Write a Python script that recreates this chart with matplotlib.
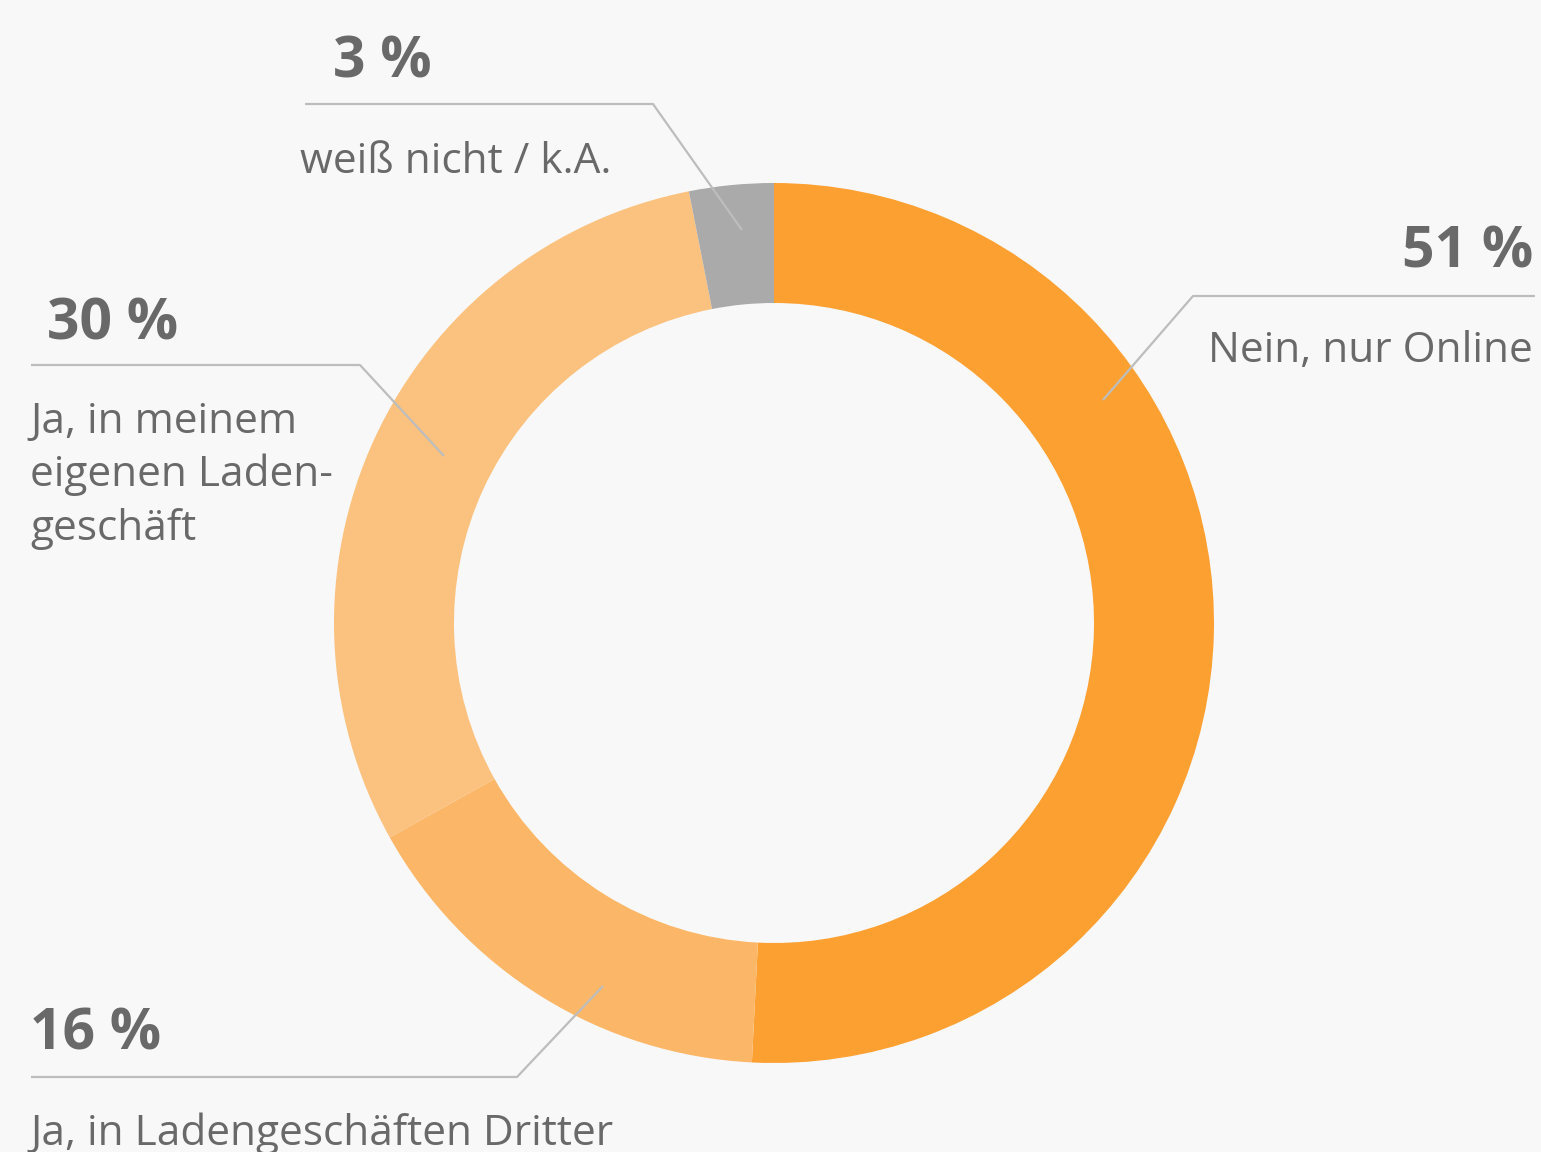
import matplotlib.pyplot as plt

plt.rcParams['font.family'] = ['Open Sans', 'DejaVu Sans']

# shares (clockwise from 12 o'clock)
categories = ["Nein, nur Online", "Ja, in Ladengeschäften Dritter",
              "Ja, in meinem\neigenen Laden-\ngeschäft", "weiß nicht / k.A."]
shares = [50.8, 16.1, 30.0, 3.1]
colors = ["#fca032", "#fbb767", "#fbc27f", "#aaaaaa"]

W, H = 1541, 1152
fig = plt.figure(figsize=(W / 100, H / 100), dpi=100)
fig.patch.set_facecolor("#f8f8f8")
ax = fig.add_axes([0, 0, 1, 1])

ax.pie(shares, colors=colors, startangle=90, counterclock=False,
       center=(774, H - 623), radius=440,
       wedgeprops=dict(width=120, linewidth=0))
ax.set_xlim(0, W)
ax.set_ylim(0, H)
ax.set_aspect("equal")
ax.axis("off")

txt = "#696969"
line_c = "#bdbdbd"


def y(py):
    return H - py


# label layout: (value x, value baseline, ha, label x, label baseline, leader polyline)
layout = [
    (1533, 268, "right", 1533, 362, [(1535, 296), (1193, 296), (1103, 400)]),
    (30, 1050, "left", 30, 1145, [(31, 1077), (517, 1077), (603, 986)]),
    (47, 340, "left", 30, 433, [(31, 365), (360, 365), (444, 456)]),
    (333, 78, "left", 300, 173, [(305, 104), (653, 104), (742, 230)]),
]

for cat, val, (vx, vy, ha, lx, ly, pts) in zip(categories, shares, layout):
    ax.text(vx, y(vy), "%d %%" % round(val), ha=ha, va="baseline",
            fontsize=41, fontweight="bold", color=txt)
    # each label line on its own baseline
    for i, line in enumerate(cat.split("\n")):
        ax.text(lx, y(ly + i * 53.5), line, ha=ha, va="baseline",
                fontsize=30.5, color=txt)
    ax.plot([p[0] for p in pts], [y(p[1]) for p in pts], color=line_c,
            linewidth=1.6, solid_capstyle="butt")

fig.savefig("out.png", dpi=100, facecolor=fig.get_facecolor())
